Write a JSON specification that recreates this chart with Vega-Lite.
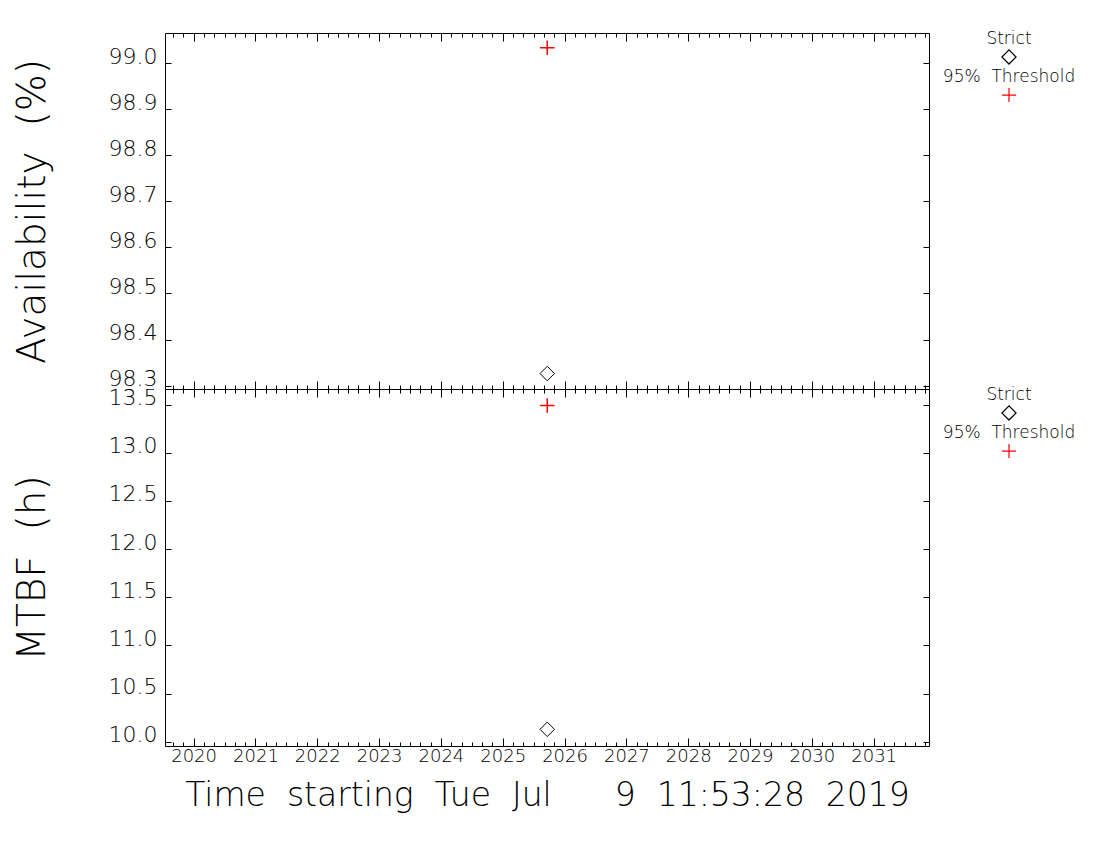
{
  "$schema": "https://vega.github.io/schema/vega-lite/v6.json",
  "padding": {"left": 12, "top": 29, "right": 5, "bottom": 5},
  "background": "white",
  "bounds": "flush",
  "columns": 2,
  "spacing": {"row": 0, "column": 10},
  "datasets": {
    "points": [
      {"metric": "Availability", "series": "Strict", "time": 2025.72, "value": 98.326},
      {"metric": "Availability", "series": "95% Threshold", "time": 2025.72, "value": 99.034},
      {"metric": "MTBF", "series": "Strict", "time": 2025.72, "value": 10.128},
      {"metric": "MTBF", "series": "95% Threshold", "time": 2025.72, "value": 13.49}
    ],
    "legend": [
      {"series": "Strict", "label": "Strict"},
      {"series": "95% Threshold", "label": "95%\u00a0\u00a0Threshold"}
    ]
  },
  "concat": [
    {
      "width": 764,
      "height": 356,
      "data": {"name": "points"},
      "resolve": {"axis": {"x": "independent", "y": "independent"}},
      "layer": [
        {
          "transform": [{"filter": "datum.metric === 'Availability' && datum.series === 'Strict'"}],
          "mark": {"type": "point", "shape": "diamond", "filled": false, "color": "black", "size": 210, "strokeWidth": 1, "opacity": 1},
          "encoding": {
            "x": {"field": "time", "type": "quantitative",
              "scale": {"domain": [2019.537, 2031.895], "nice": false, "zero": false},
              "axis": {"orient": "bottom", "title": null, "labels": false, "labelOverlap": false,
                "values": [2019.6667,2019.8333,2020,2020.1667,2020.3333,2020.5,2020.6667,2020.8333,2021,2021.1667,2021.3333,2021.5,2021.6667,2021.8333,2022,2022.1667,2022.3333,2022.5,2022.6667,2022.8333,2023,2023.1667,2023.3333,2023.5,2023.6667,2023.8333,2024,2024.1667,2024.3333,2024.5,2024.6667,2024.8333,2025,2025.1667,2025.3333,2025.5,2025.6667,2025.8333,2026,2026.1667,2026.3333,2026.5,2026.6667,2026.8333,2027,2027.1667,2027.3333,2027.5,2027.6667,2027.8333,2028,2028.1667,2028.3333,2028.5,2028.6667,2028.8333,2029,2029.1667,2029.3333,2029.5,2029.6667,2029.8333,2030,2030.1667,2030.3333,2030.5,2030.6667,2030.8333,2031,2031.1667,2031.3333,2031.5,2031.6667,2031.8333],
                "tickSize": {"condition": {"test": "datum.value % 1 === 0", "value": -8}, "value": -4}}},
            "y": {"field": "value", "type": "quantitative",
              "scale": {"domain": [98.2925, 99.066], "nice": false, "zero": false},
              "axis": {"orient": "left", "values": [98.3, 98.4, 98.5, 98.6, 98.7, 98.8, 98.9, 99.0], "format": ".1f",
                "labelOverlap": false,
                "tickSize": -6, "labelFontSize": 22, "labelPadding": 14, "labelBaseline": "alphabetic",
                "title": "Availability\u00a0\u00a0(%)", "titleFontSize": 39, "titlePadding": 56}}
          }
        },
        {
          "transform": [{"filter": "datum.metric === 'Availability' && datum.series === '95% Threshold'"}],
          "mark": {"type": "point", "shape": "M-1,0L1,0M0,-1L0,1", "filled": false, "color": "#ff0000", "size": 210, "strokeWidth": 1.5, "opacity": 1},
          "encoding": {
            "x": {"field": "time", "type": "quantitative",
              "scale": {"domain": [2019.537, 2031.895], "nice": false, "zero": false},
              "axis": {"orient": "top", "title": null, "labels": false, "labelOverlap": false,
                "values": [2019.6667,2019.8333,2020,2020.1667,2020.3333,2020.5,2020.6667,2020.8333,2021,2021.1667,2021.3333,2021.5,2021.6667,2021.8333,2022,2022.1667,2022.3333,2022.5,2022.6667,2022.8333,2023,2023.1667,2023.3333,2023.5,2023.6667,2023.8333,2024,2024.1667,2024.3333,2024.5,2024.6667,2024.8333,2025,2025.1667,2025.3333,2025.5,2025.6667,2025.8333,2026,2026.1667,2026.3333,2026.5,2026.6667,2026.8333,2027,2027.1667,2027.3333,2027.5,2027.6667,2027.8333,2028,2028.1667,2028.3333,2028.5,2028.6667,2028.8333,2029,2029.1667,2029.3333,2029.5,2029.6667,2029.8333,2030,2030.1667,2030.3333,2030.5,2030.6667,2030.8333,2031,2031.1667,2031.3333,2031.5,2031.6667,2031.8333],
                "tickSize": {"condition": {"test": "datum.value % 1 === 0", "value": -8}, "value": -4}}},
            "y": {"field": "value", "type": "quantitative",
              "scale": {"domain": [98.2925, 99.066], "nice": false, "zero": false},
              "axis": {"orient": "right", "values": [98.3, 98.4, 98.5, 98.6, 98.7, 98.8, 98.9, 99.0],
                "tickSize": -6, "labels": false, "title": null}}
          }
        }
      ]
    },
    {
      "width": 140,
      "height": 86,
      "view": {"stroke": null},
      "data": {"name": "legend"},
      "encoding": {
        "y": {"field": "series", "type": "nominal", "sort": ["Strict", "95% Threshold"],
          "scale": {"type": "point", "padding": 0.63}, "axis": null}
      },
      "layer": [
        {"mark": {"type": "text", "dy": -18, "fontSize": 17, "font": "DejaVu Sans", "fontWeight": 200, "color": "black", "baseline": "middle"},
         "encoding": {"text": {"field": "label"}}},
        {"mark": {"type": "point", "filled": false, "size": 200, "strokeWidth": 1.2, "opacity": 1},
         "encoding": {
           "shape": {"field": "series", "scale": {"domain": ["Strict", "95% Threshold"], "range": ["diamond", "M-1,0L1,0M0,-1L0,1"]}, "legend": null},
           "color": {"field": "series", "scale": {"domain": ["Strict", "95% Threshold"], "range": ["black", "#ff0000"]}, "legend": null}
         }}
      ]
    },
    {
      "width": 764,
      "height": 357,
      "data": {"name": "points"},
      "resolve": {"axis": {"x": "independent", "y": "independent"}},
      "layer": [
        {
          "transform": [{"filter": "datum.metric === 'MTBF' && datum.series === 'Strict'"}],
          "mark": {"type": "point", "shape": "diamond", "filled": false, "color": "black", "size": 210, "strokeWidth": 1, "opacity": 1},
          "encoding": {
            "x": {"field": "time", "type": "quantitative",
              "scale": {"domain": [2019.537, 2031.895], "nice": false, "zero": false},
              "axis": {"orient": "bottom", "format": "d", "labelOverlap": false,
                "values": [2020, 2021, 2022, 2023, 2024, 2025, 2026, 2027, 2028, 2029, 2030, 2031],
                "tickSize": -8,
                "labelFontSize": 18, "labelPadding": 9, "labelBaseline": "top",
                "title": "Time\u00a0\u00a0starting\u00a0\u00a0Tue\u00a0\u00a0Jul\u00a0\u00a0\u00a0\u00a0\u00a0\u00a09\u00a0\u00a011:53:28\u00a0\u00a02019",
                "titleFontSize": 33, "titlePadding": 14}},
            "y": {"field": "value", "type": "quantitative",
              "scale": {"domain": [9.955, 13.661], "nice": false, "zero": false},
              "axis": {"orient": "left", "values": [10.0, 10.5, 11.0, 11.5, 12.0, 12.5, 13.0, 13.5], "format": ".1f",
                "labelOverlap": false,
                "tickSize": -6, "labelFontSize": 22, "labelPadding": 14, "labelBaseline": "alphabetic",
                "title": "MTBF\u00a0\u00a0(h)", "titleFontSize": 39, "titlePadding": 56}}
          }
        },
        {
          "transform": [{"filter": "datum.metric === 'MTBF' && datum.series === '95% Threshold'"}],
          "mark": {"type": "point", "shape": "M-1,0L1,0M0,-1L0,1", "filled": false, "color": "#ff0000", "size": 210, "strokeWidth": 1.5, "opacity": 1},
          "encoding": {
            "x": {"field": "time", "type": "quantitative",
              "scale": {"domain": [2019.537, 2031.895], "nice": false, "zero": false},
              "axis": {"orient": "top", "title": null, "labels": false, "labelOverlap": false,
                "values": [2019.6667,2019.8333,2020,2020.1667,2020.3333,2020.5,2020.6667,2020.8333,2021,2021.1667,2021.3333,2021.5,2021.6667,2021.8333,2022,2022.1667,2022.3333,2022.5,2022.6667,2022.8333,2023,2023.1667,2023.3333,2023.5,2023.6667,2023.8333,2024,2024.1667,2024.3333,2024.5,2024.6667,2024.8333,2025,2025.1667,2025.3333,2025.5,2025.6667,2025.8333,2026,2026.1667,2026.3333,2026.5,2026.6667,2026.8333,2027,2027.1667,2027.3333,2027.5,2027.6667,2027.8333,2028,2028.1667,2028.3333,2028.5,2028.6667,2028.8333,2029,2029.1667,2029.3333,2029.5,2029.6667,2029.8333,2030,2030.1667,2030.3333,2030.5,2030.6667,2030.8333,2031,2031.1667,2031.3333,2031.5,2031.6667,2031.8333],
                "tickSize": {"condition": {"test": "datum.value % 1 === 0", "value": -8}, "value": -4}}},
            "y": {"field": "value", "type": "quantitative",
              "scale": {"domain": [9.955, 13.661], "nice": false, "zero": false},
              "axis": {"orient": "right", "values": [10.0, 10.5, 11.0, 11.5, 12.0, 12.5, 13.0, 13.5],
                "tickSize": -6, "labels": false, "title": null}}
          }
        },
        {
          "transform": [{"filter": "datum.metric === 'MTBF' && datum.series === 'Strict'"}],
          "mark": {"type": "point", "opacity": 0},
          "encoding": {
            "x": {"field": "time", "type": "quantitative",
              "scale": {"domain": [2019.537, 2031.895], "nice": false, "zero": false},
              "axis": {"orient": "bottom", "title": null, "labels": false, "labelOverlap": false,
                "values": [2019.6667,2019.8333,2020.1667,2020.3333,2020.5,2020.6667,2020.8333,2021.1667,2021.3333,2021.5,2021.6667,2021.8333,2022.1667,2022.3333,2022.5,2022.6667,2022.8333,2023.1667,2023.3333,2023.5,2023.6667,2023.8333,2024.1667,2024.3333,2024.5,2024.6667,2024.8333,2025.1667,2025.3333,2025.5,2025.6667,2025.8333,2026.1667,2026.3333,2026.5,2026.6667,2026.8333,2027.1667,2027.3333,2027.5,2027.6667,2027.8333,2028.1667,2028.3333,2028.5,2028.6667,2028.8333,2029.1667,2029.3333,2029.5,2029.6667,2029.8333,2030.1667,2030.3333,2030.5,2030.6667,2030.8333,2031.1667,2031.3333,2031.5,2031.6667,2031.8333],
                "tickSize": -4}},
            "y": {"field": "value", "type": "quantitative",
              "scale": {"domain": [9.955, 13.661], "nice": false, "zero": false},
              "axis": null}
          }
        }
      ]
    },
    {
      "width": 140,
      "height": 86,
      "view": {"stroke": null},
      "data": {"name": "legend"},
      "encoding": {
        "y": {"field": "series", "type": "nominal", "sort": ["Strict", "95% Threshold"],
          "scale": {"type": "point", "padding": 0.63}, "axis": null}
      },
      "layer": [
        {"mark": {"type": "text", "dy": -18, "fontSize": 17, "font": "DejaVu Sans", "fontWeight": 200, "color": "black", "baseline": "middle"},
         "encoding": {"text": {"field": "label"}}},
        {"mark": {"type": "point", "filled": false, "size": 200, "strokeWidth": 1.2, "opacity": 1},
         "encoding": {
           "shape": {"field": "series", "scale": {"domain": ["Strict", "95% Threshold"], "range": ["diamond", "M-1,0L1,0M0,-1L0,1"]}, "legend": null},
           "color": {"field": "series", "scale": {"domain": ["Strict", "95% Threshold"], "range": ["black", "#ff0000"]}, "legend": null}
         }}
      ]
    }
  ],
  "config": {
    "view": {"stroke": "black", "strokeWidth": 1},
    "axis": {
      "domain": false, "grid": false,
      "tickColor": "black", "tickWidth": 1,
      "labelColor": "black", "labelFont": "DejaVu Sans", "labelFontWeight": 200,
      "titleColor": "black", "titleFont": "DejaVu Sans", "titleFontWeight": 200,
      "labelFlush": false, "labelOverlap": false, "labelBound": false
    }
  }
}
